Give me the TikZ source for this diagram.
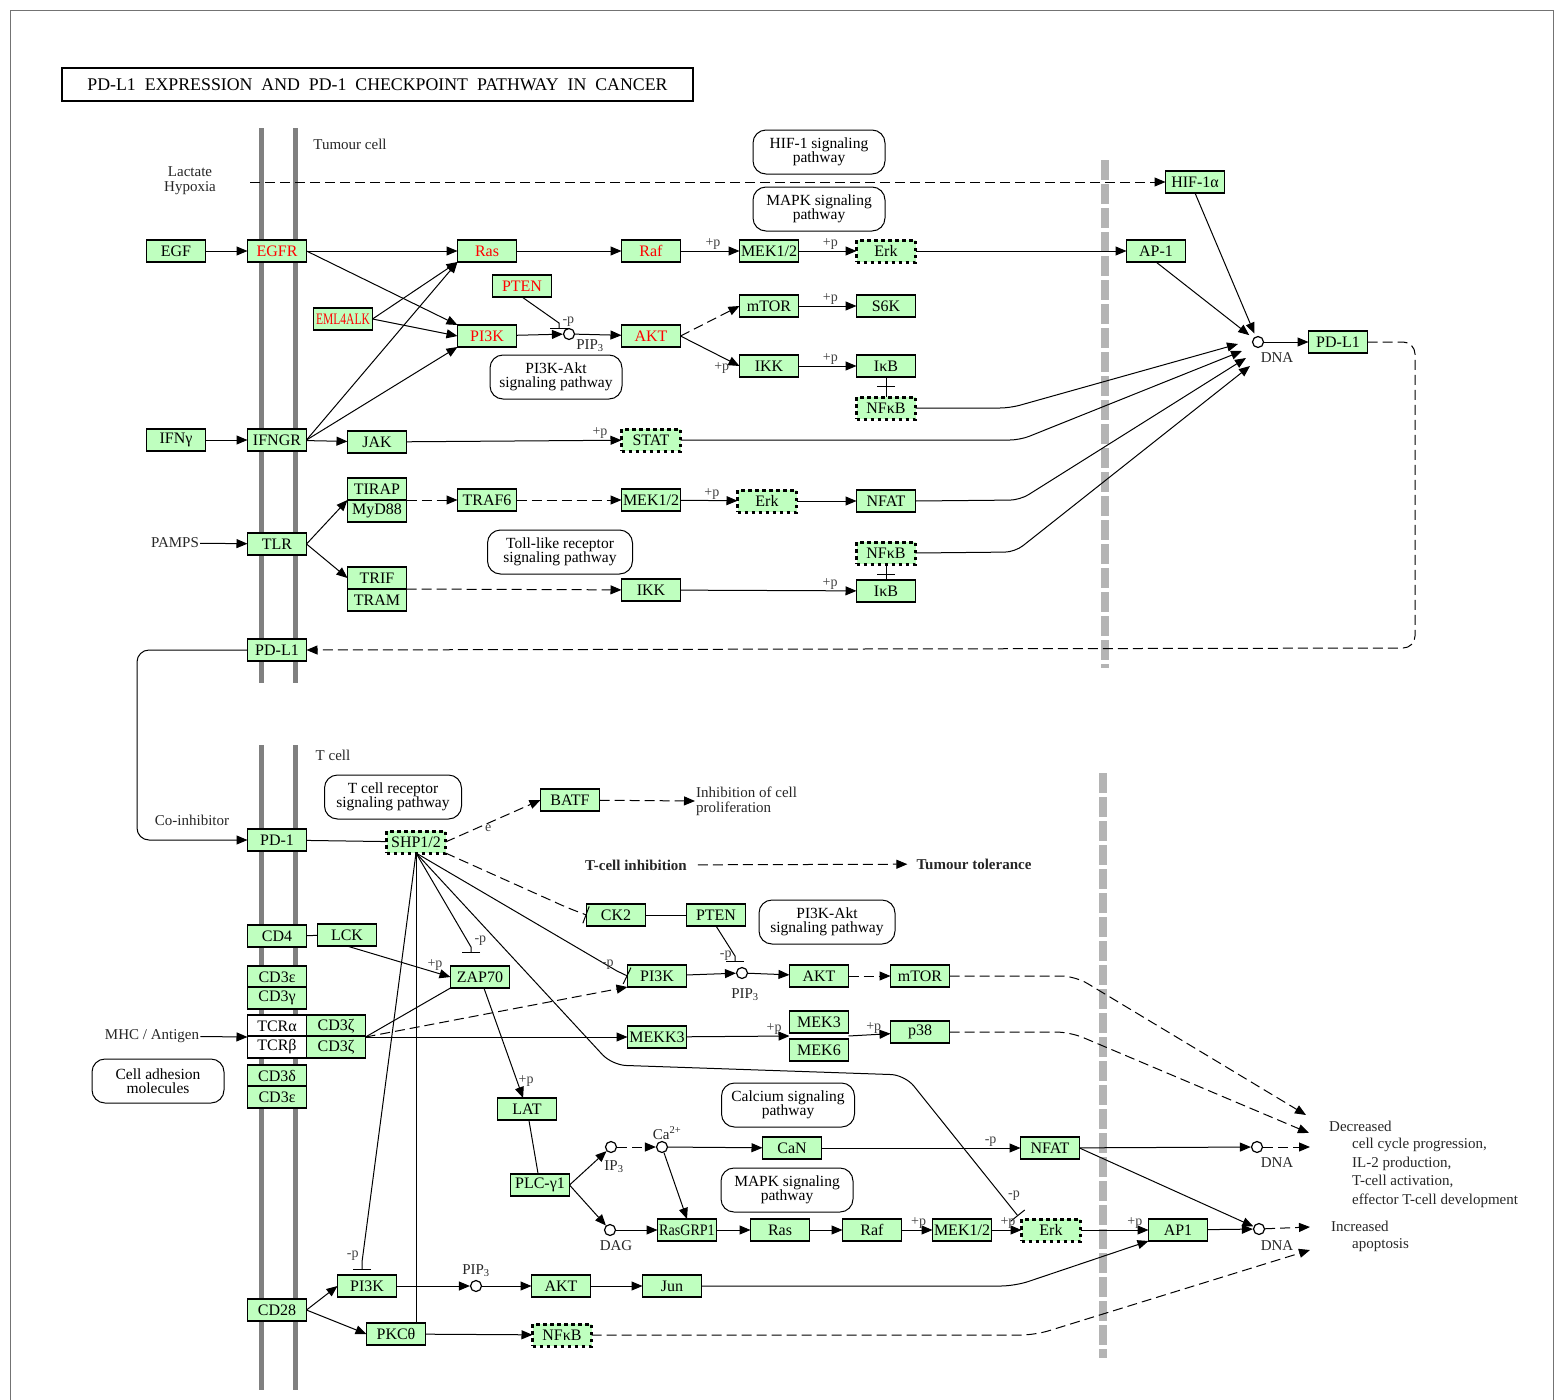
\documentclass[tikz,border=0pt]{standalone}
\usepackage{fontspec}
\setmainfont{Liberation Serif}
\usepackage{graphicx}
\usetikzlibrary{arrows.meta, positioning, calc}
\definecolor{genegreen}{HTML}{BFFFBF}
\definecolor{hitred}{HTML}{FF0000}
\definecolor{membgray}{HTML}{808080}
\definecolor{nuclgray}{HTML}{B4B4B4}

\begin{document}
\begin{tikzpicture}[
    x=1pt, y=-1pt,
    every node/.style={font=\fontsize{15}{15}\selectfont},
    gene/.style={rectangle, draw, fill=genegreen, line width=1.1pt, minimum width=59pt, minimum height=22pt, inner sep=0pt, outer sep=0pt, font=\fontsize{16}{16}\selectfont},
    hitbox/.style={gene, text=hitred},
    grpbox/.style={gene, line width=3pt, dash pattern=on 3.5pt off 3.5pt},
    pathbox/.style={rectangle, rounded corners=13pt, draw, line width=1pt, align=center, minimum width=132pt, minimum height=44pt, inner sep=1pt, font=\fontsize{15.5}{14.5}\selectfont},
    cpd/.style={circle, draw, fill=white, line width=1.2pt, minimum size=11pt, inner sep=0pt},
    txt/.style={inner sep=1pt, text=black!85},
    plabel/.style={inner sep=1pt, text=black!75, font=\fontsize{14}{14}\selectfont},
    arrow/.style={-{Triangle[length=11pt,width=9pt]}, line width=1pt},
    darrow/.style={arrow, dash pattern=on 10pt off 5pt},
    inhib/.style={-{Bar[width=18pt,line width=1pt]}, line width=1pt},
    dinhib/.style={inhib, dash pattern=on 10pt off 5pt},
    link/.style={line width=1pt}
]
\useasboundingbox (0,0) rectangle (1561,1400);
\draw[black!55, line width=1pt] (10,1400) -- (10,10) -- (1553,10) -- (1553,1400);

% membranes
\draw[membgray, line width=5pt] (261,128) -- (261,683);
\draw[membgray, line width=5pt] (295,128) -- (295,683);
\draw[membgray, line width=5pt] (261,745) -- (261,1390);
\draw[membgray, line width=5pt] (295,745) -- (295,1390);
\draw[nuclgray, line width=8pt, dash pattern=on 20pt off 4pt] (1105,160) -- (1105,668);
\draw[nuclgray, line width=8pt, dash pattern=on 20pt off 4pt] (1103,773) -- (1103,1358);

\node[draw, line width=2pt, minimum width=631pt, minimum height=33pt, font=\fontsize{17.8}{17.8}\selectfont] (title) at (377.5,84.5)
  {PD-L1\ \ EXPRESSION\ \ AND\ \ PD-1\ \ CHECKPOINT\ \ PATHWAY\ \ IN\ \ CANCER};

% ---------- tumour cell ----------
\node[txt] at (350,144) {Tumour cell};
\node[txt, align=center] (lact) at (190,181) {Lactate\\Hypoxia};
\coordinate (hyp) at (250,182);
\node[pathbox] (hifpw) at (819,152) {HIF-1 signaling\\pathway};
\node[pathbox] (mapkpw) at (819,209) {MAPK signaling\\pathway};
\node[pathbox] (pi3kpw) at (556,377) {PI3K-Akt\\signaling pathway};
\node[pathbox, minimum width=145pt] (tlrpw) at (560,552) {Toll-like receptor\\signaling pathway};

\node[gene] (hif) at (1195,182) {HIF-1α};
\node[gene] (egf) at (176,251) {EGF};
\node[hitbox] (egfr) at (277,251) {EGFR};
\node[hitbox] (ras) at (487,251) {Ras};
\node[hitbox] (raf) at (651,251) {Raf};
\node[gene] (mek) at (769,251) {MEK1/2};
\node[grpbox] (erk) at (886,251) {Erk};
\node[gene] (ap1) at (1156,251) {AP-1};
\node[hitbox] (pten) at (522,286) {PTEN};
\node[hitbox] (eml) at (343,319) {\scalebox{0.72}[1]{EML4ALK}};
\node[hitbox] (pik) at (487,336) {PI3K};
\node[cpd] (pip) at (569,334) {};
\node[txt] at (590,346) {PIP\textsubscript{3}};
\node[hitbox] (akt) at (651,336) {AKT};
\node[gene] (mtor) at (769,306) {mTOR};
\node[gene] (s6k) at (886,306) {S6K};
\node[gene] (ikk) at (769,366) {IKK};
\node[gene] (ikb) at (886,366) {IκB};
\node[grpbox] (nfkb) at (886,408) {NFκB};
\node[cpd] (dna) at (1258,342) {};
\node[txt] at (1277,358) {DNA};
\node[gene] (pdlr) at (1338,342) {PD-L1};
\node[gene] (ifng) at (176,440) {IFNγ};
\node[gene] (ifngr) at (277,440) {IFNGR};
\node[gene] (jak) at (377,442) {JAK};
\node[grpbox] (stat) at (651,440) {STAT};
\node[gene] (tirap) at (377,489) {TIRAP};
\node[gene, below=0pt of tirap] (myd) {MyD88};
\node[gene] (traf) at (487,500) {TRAF6};
\node[gene] (mekb) at (651,500) {MEK1/2};
\node[grpbox] (erkb) at (767,501) {Erk};
\node[gene] (nfat) at (886,501) {NFAT};
\node[txt] (pamps) at (175,543) {PAMPS};
\node[gene] (tlr) at (277,544) {TLR};
\node[grpbox] (nfkbb) at (886,553) {NFκB};
\node[gene] (trif) at (377,578) {TRIF};
\node[gene, below=0pt of trif] (tram) {TRAM};
\node[gene] (ikkb) at (651,590) {IKK};
\node[gene] (ikbb) at (886,591) {IκB};
\node[gene] (pdll) at (277,650) {PD-L1};

\draw[darrow] (hyp) -- (hif);
\draw[arrow] (egf) -- (egfr);
\draw[arrow] (egfr) -- (ras);
\draw[arrow] (egfr.east) -- (pik.north west);
\draw[arrow] (eml.east) -- (ras.south west);
\draw[arrow] (eml.east) -- (pik.west);
\draw[arrow] (ifngr.east) -- (ras.south west);
\draw[arrow] (ifngr.east) -- (pik.south west);
\draw[arrow] (ras) -- (raf);
\draw[arrow] (raf) -- node[plabel, above, pos=0.55]{+p} (mek);
\draw[arrow] (mek) -- node[plabel, above, pos=0.55]{+p} (erk);
\draw[arrow] (erk) -- (ap1);
\draw[arrow] (pik) -- (pip);
\draw[arrow] (pip) -- (akt);
\draw[inhib] (pten.south) -- (559,323) -- node[plabel, above right=-2pt and 2pt]{-p} (559,329);
\draw[darrow] (akt.east) -- (mtor.west);
\draw[arrow] (akt.east) -- node[plabel, below left, pos=0.85]{+p} (ikk.west);
\draw[arrow] (mtor) -- node[plabel, above, pos=0.55]{+p} (s6k);
\draw[arrow] (ikk) -- node[plabel, above, pos=0.55]{+p} (ikb);
\draw[link] (ikb) -- (nfkb);
\draw[inhib, shorten >=10pt] (ikb) -- (nfkb);
\draw[arrow] (ifng) -- (ifngr);
\draw[arrow] (ifngr) -- (jak);
\draw[arrow] (jak) -- node[plabel, above, pos=0.9]{+p} (stat);
\draw[arrow] (pamps) -- (tlr);
\draw[arrow] (tlr.east) -- (tirap.south west);
\draw[arrow] (tlr.east) -- (trif.west);
\draw[darrow] (tirap.south east) -- (traf);
\draw[darrow] (traf) -- (mekb);
\draw[arrow] (mekb) -- node[plabel, above, pos=0.55]{+p} (erkb);
\draw[arrow] (erkb) -- (nfat);
\draw[darrow] (trif.south east) -- (ikkb);
\draw[arrow] (ikkb) -- node[plabel, above, pos=0.85]{+p} (ikbb);
\draw[link] (ikbb) -- (nfkbb);
\draw[inhib, shorten >=10pt] (ikbb) -- (nfkbb);

% towards DNA
\draw[arrow, shorten >=3pt] (hif.south) -- (dna);
\draw[arrow, shorten >=5pt] (ap1.south) -- (dna);
\draw[arrow, rounded corners=10pt] (nfkb.east) -- (1010,408) -- ($(dna)+(-20,2)$);
\draw[arrow, rounded corners=10pt] (stat.east) -- (1020,440) -- ($(dna)+(-16,9)$);
\draw[arrow, rounded corners=10pt] (nfat.east) -- (1020,500) -- ($(dna)+(-12,16)$);
\draw[arrow, rounded corners=10pt] (nfkbb.east) -- (1015,552) -- ($(dna)+(-8,24)$);
\draw[arrow] (dna) -- (pdlr);
\draw[darrow, rounded corners=12pt] (pdlr.east) -- (1415,342) -- (1415,648) -- (pdll.east);

% ---------- T cell ----------
\node[txt] at (333,755) {T cell};
\node[pathbox, minimum width=137pt] (tcrpw) at (393,797) {T cell receptor\\signaling pathway};
\node[txt] at (192,820) {Co-inhibitor};
\node[gene] (pd1) at (277,840) {PD-1};
\node[grpbox] (shp) at (416,842) {SHP1/2};
\node[gene] (batf) at (570,800) {BATF};
\node[txt, align=left, anchor=west] (prolif) at (695,801) {Inhibition of cell\\proliferation};
\node[txt, font=\fontsize{15}{15}\selectfont\bfseries] (tcinh) at (636,865) {T-cell inhibition};
\node[txt, font=\fontsize{15}{15}\selectfont\bfseries] (ttol) at (974,864) {Tumour tolerance};
\node[gene] (ck2) at (616,915) {CK2};
\node[gene] (ptenb) at (716,915) {PTEN};
\node[pathbox, minimum width=136pt] (pi3kpwb) at (827,922) {PI3K-Akt\\signaling pathway};
\node[gene] (cd4) at (277,936) {CD4};
\node[gene] (lck) at (347,935) {LCK};
\node[gene] (zap) at (480,977) {ZAP70};
\node[gene] (pikb) at (657,976) {PI3K};
\node[cpd] (pipb) at (742,973) {};
\node[txt] at (745,995) {PIP\textsubscript{3}};
\node[gene] (aktb) at (819,976) {AKT};
\node[gene] (mtorb) at (920,976) {mTOR};
\node[gene] (cd3e) at (277,977) {CD3ε};
\node[gene] (cd3g) at (277,998) {CD3γ};
\node[gene, fill=white] (tcra) at (277,1026) {TCRα};
\node[gene] (cd3za) at (336,1026) {CD3ζ};
\node[gene, fill=white] (tcrb) at (277,1047) {TCRβ};
\node[gene] (cd3zb) at (336,1047) {CD3ζ};
\node[txt] (mhc) at (152,1036) {MHC / Antigen};
\node[gene] (mekk) at (657,1037) {MEKK3};
\node[gene] (mek3) at (819,1022) {MEK3};
\node[gene] (mek6) at (819,1050) {MEK6};
\node[gene] (p38) at (920,1032) {p38};
\node[pathbox] (adhpw) at (158,1081) {Cell adhesion\\molecules};
\node[gene] (cd3d) at (277,1076) {CD3δ};
\node[gene] (cd3eb) at (277,1097) {CD3ε};
\node[pathbox, minimum width=133pt] (calpw) at (788,1105) {Calcium signaling\\pathway};
\node[gene] (lat) at (527,1109) {LAT};
\node[cpd] (ip3) at (611,1147) {};
\node[txt] at (614,1167) {IP\textsubscript{3}};
\node[cpd] (ca) at (662,1147) {};
\node[txt] at (667,1133) {Ca\textsuperscript{2+}};
\node[gene] (can) at (792,1148) {CaN};
\node[gene] (nfatb) at (1050,1148) {NFAT};
\node[cpd] (dnaa) at (1257,1147) {};
\node[txt] at (1277,1163) {DNA};
\node[gene] (plc) at (540,1185) {PLC-γ1};
\node[pathbox] (mapkpwb) at (787,1190) {MAPK signaling\\pathway};
\node[cpd] (dag) at (610,1230) {};
\node[txt] at (616,1246) {DAG};
\node[gene] (rasgrp) at (687,1230) {\scalebox{0.88}[1]{RasGRP1}};
\node[gene] (rasb) at (780,1230) {Ras};
\node[gene] (rafb) at (872,1230) {Raf};
\node[gene] (mekc) at (962,1230) {MEK1/2};
\node[grpbox] (erkc) at (1051,1230) {Erk};
\node[gene] (ap1b) at (1178,1230) {AP1};
\node[cpd] (dnab) at (1259,1229) {};
\node[txt] at (1277,1246) {DNA};
\node[gene] (pikc) at (367,1286) {PI3K};
\node[cpd] (pipc) at (476,1286) {};
\node[txt] at (476,1271) {PIP\textsubscript{3}};
\node[gene] (aktc) at (561,1286) {AKT};
\node[gene] (jun) at (672,1286) {Jun};
\node[gene] (cd28) at (277,1310) {CD28};
\node[gene] (pkc) at (396,1334) {PKCθ};
\node[grpbox] (nfkbc) at (562,1335) {NFκB};

\node[txt, anchor=west] (decr) at (1328,1126) {Decreased};
\node[txt, anchor=north west, align=left, font=\fontsize{15}{18.5}\selectfont] (decrl) at (1351,1137)
  {cell cycle progression,\\IL-2 production,\\T-cell activation,\\effector T-cell development};
\node[txt, anchor=west] (incr) at (1330,1226) {Increased};
\node[txt, anchor=west] (apop) at (1351,1245) {apoptosis};
\coordinate (outa) at (1306,1115);
\coordinate (outb) at (1309,1133);
\coordinate (outc) at (1310,1147);
\coordinate (outd) at (1310,1227);
\coordinate (oute) at (1310,1250);

\draw[arrow, rounded corners=12pt] (pdll.west) -- (137,650) -- (137,840) -- (pd1.west);
\draw[arrow] (mhc) -- (tcra.south west);
\draw[link] (pd1) -- (shp);
\draw[darrow] (shp.east) -- node[plabel, below, pos=0.45]{e} (batf.west);
\draw[darrow] (batf) -- (prolif.west);
\draw[darrow, shorten <=10pt, shorten >=8pt] (tcinh) -- (ttol);
\draw[dinhib, rounded corners=8pt] (shp.south east) -- (568,908) -- (ck2.west);
\draw[inhib] (ck2) -- (ptenb);
\draw[inhib] (ptenb.south) -- (735,956) -- node[plabel, left=2pt, pos=0]{-p} (735,962);
\draw[inhib] (shp.south) -- (617,971) -- node[plabel, above left=0pt and 2pt, pos=0]{-p} (pikb.west);
\draw[inhib] (shp.south) -- (471,947) -- node[plabel, above right=0pt and 2pt, pos=0]{-p} (471,953);
\draw[inhib] (shp.south) -- (shp.south |- pkc.north);
\draw[inhib] (shp.south) -- (362,1262) -- node[plabel, above left=0pt and 2pt, pos=0]{-p} (362,1270);
\draw[inhib, rounded corners=14pt] (shp.south) -- (612,1065) -- (905,1075) -- node[plabel, above right=0pt and 0pt, pos=0.9]{-p} (1018,1216);
\draw[link] (cd4) -- (lck);
\draw[arrow] (lck.south) -- node[plabel, above, pos=0.85]{+p} (zap.west);
\draw[link] (zap.south west) -- (cd3za.south east);
\draw[darrow] (cd3za.south east) -- (pikb.south west);
\draw[arrow] (cd3za.south east) -- (mekk);
\draw[arrow] (zap) -- node[plabel, right, pos=0.85]{+p} (lat);
\draw[link] (lat) -- (plc);
\draw[arrow] (plc.east) -- (ip3);
\draw[arrow] (plc.east) -- (dag);
\draw[darrow] (ip3) -- (ca);
\draw[arrow] (ca) -- (can);
\draw[arrow] (ca) -- (rasgrp.north);
\draw[arrow] (dag) -- (rasgrp);
\draw[arrow] (rasgrp) -- (rasb);
\draw[arrow] (rasb) -- (rafb);
\draw[arrow] (rafb) -- node[plabel, above, pos=0.55]{+p} (mekc);
\draw[arrow] (mekc) -- node[plabel, above, pos=0.55]{+p} (erkc);
\draw[arrow] (erkc) -- node[plabel, above, pos=0.8]{+p} (ap1b);
\draw[arrow] (ap1b) -- (dnab);
\draw[arrow] (can) -- node[plabel, above, pos=0.85]{-p} (nfatb);
\draw[arrow] (nfatb) -- (dnaa);
\draw[arrow] (nfatb.east) -- (dnab);
\draw[darrow] (dnaa) -- (outc);
\draw[darrow] (dnab) -- (outd);
\draw[arrow] (pikb) -- (pipb);
\draw[arrow] (pipb) -- (aktb);
\draw[darrow] (aktb) -- (mtorb);
\draw[darrow, rounded corners=14pt] (mtorb) -- (1075,976) -- (outa);
\draw[arrow] (mekk) -- node[plabel, above, pos=0.85]{+p} ($(mek3.south west)!0.5!(mek6.north west)$);
\draw[arrow] ($(mek3.south east)!0.5!(mek6.north east)$) -- node[plabel, above, pos=0.6]{+p} (p38);
\draw[darrow, rounded corners=14pt] (p38) -- (1070,1032) -- (outb);
\draw[arrow] (cd28.east) -- (pikc.west);
\draw[arrow] (cd28.east) -- (pkc.west);
\draw[arrow] (pikc) -- (pipc);
\draw[arrow] (pipc) -- (aktc);
\draw[arrow] (aktc) -- (jun);
\draw[arrow, rounded corners=14pt] (jun) -- (1015,1286) -- (ap1b.south west);
\draw[arrow] (pkc) -- (nfkbc);
\draw[darrow, rounded corners=14pt] (nfkbc) -- (1035,1335) -- (oute);
\end{tikzpicture}
\end{document}
